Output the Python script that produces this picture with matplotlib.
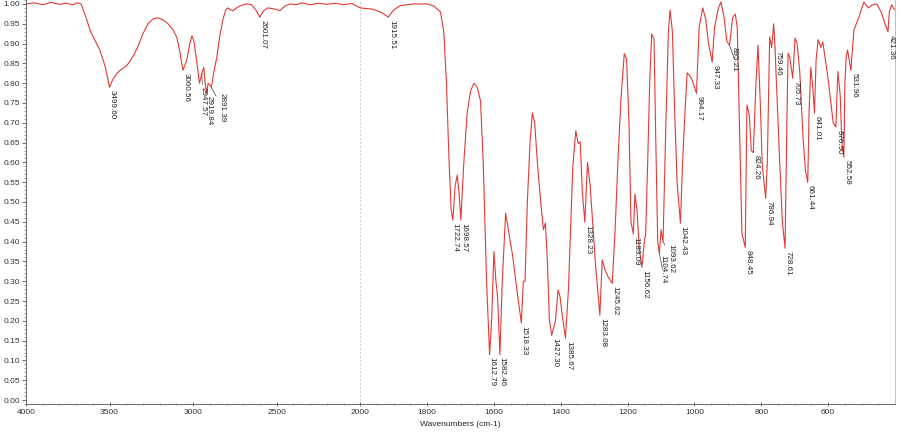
import numpy as np
import matplotlib
matplotlib.use("Agg")
import matplotlib.pyplot as plt
from matplotlib.ticker import FixedLocator, MultipleLocator, FormatStrFormatter

plt.rcParams["font.family"] = ["Liberation Sans", "DejaVu Sans"]

# traced IR spectrum (wavenumber, transmittance)
wavenumber = [
    4000, 3950, 3900, 3850, 3800, 3760, 3720, 3690, 3670, 3640, 3617, 3590, 3558, 3525,
    3500, 3480, 3455, 3430, 3400, 3378, 3350, 3330, 3300, 3270, 3240, 3210, 3181, 3150,
    3120, 3097, 3080, 3061, 3050, 3037, 3020, 3007, 2995, 2980, 2962, 2948, 2936, 2928,
    2920, 2910, 2900, 2891, 2875, 2858, 2840, 2822, 2805, 2792, 2775, 2762, 2740, 2709,
    2680, 2650, 2625, 2601, 2580, 2553, 2520, 2481, 2450, 2420, 2380, 2350, 2300, 2250,
    2200, 2150, 2100, 2050, 2000, 1964, 1940, 1916, 1900, 1880, 1840, 1800, 1780, 1760,
    1750, 1742, 1735, 1728, 1723, 1716, 1710, 1704, 1699, 1690, 1680, 1670, 1660, 1650,
    1640, 1632, 1622, 1613, 1607, 1600, 1594, 1589, 1582, 1575, 1565, 1555, 1545, 1530,
    1518, 1512, 1507, 1500, 1492, 1485, 1478, 1470, 1460, 1452, 1446, 1440, 1434, 1427,
    1422, 1416, 1408, 1402, 1395, 1386, 1377, 1370, 1364, 1355, 1348, 1342, 1335, 1328,
    1320, 1312, 1303, 1295, 1283, 1276, 1268, 1258, 1246, 1238, 1228, 1220, 1210, 1203,
    1196, 1190, 1183, 1178, 1172, 1165, 1157, 1150, 1146, 1140, 1134, 1128, 1121, 1116,
    1110, 1105, 1100, 1094, 1085, 1078, 1073, 1066, 1060, 1052, 1042, 1036, 1030, 1022,
    1015, 1008, 1000, 994, 986, 975, 966, 958, 947, 940, 930, 921, 912, 903,
    895, 886, 878, 872, 866, 858, 848, 843, 836, 830, 824, 816, 810, 803,
    797, 787, 782, 775, 769, 763, 759, 745, 737, 729, 724, 720, 715, 706,
    699, 693, 685, 675, 668, 661, 657, 652, 646, 641, 636, 630, 622, 616,
    600, 585, 577, 571, 564, 559, 553, 550, 546, 542, 532, 523, 508, 493,
    480, 469, 454, 440, 430, 421, 417, 410, 405, 400,
]
transmittance = [
    1.000, 1.003, 0.998, 1.004, 0.999, 1.002, 0.998, 1.003, 1.000, 0.965, 0.934, 0.910, 0.884, 0.840,
    0.790, 0.810, 0.825, 0.835, 0.843, 0.855, 0.875, 0.893, 0.925, 0.950, 0.962, 0.965, 0.960, 0.950,
    0.935, 0.915, 0.880, 0.833, 0.845, 0.860, 0.900, 0.920, 0.905, 0.860, 0.800, 0.825, 0.840, 0.800,
    0.775, 0.800, 0.795, 0.790, 0.830, 0.866, 0.920, 0.960, 0.985, 0.990, 0.985, 0.983, 0.990, 0.997,
    1.000, 0.998, 0.985, 0.967, 0.982, 0.990, 0.988, 0.983, 0.995, 1.000, 0.998, 1.003, 0.998, 1.002,
    0.999, 1.002, 0.998, 1.001, 0.990, 0.987, 0.980, 0.967, 0.985, 0.996, 1.000, 1.000, 0.995, 0.980,
    0.930, 0.800, 0.620, 0.480, 0.455, 0.540, 0.568, 0.520, 0.455, 0.600, 0.725, 0.780, 0.800, 0.790,
    0.755, 0.600, 0.300, 0.115, 0.200, 0.375, 0.300, 0.260, 0.115, 0.300, 0.472, 0.420, 0.370, 0.270,
    0.195, 0.300, 0.300, 0.500, 0.650, 0.725, 0.700, 0.600, 0.500, 0.430, 0.447, 0.350, 0.200, 0.164,
    0.180, 0.200, 0.278, 0.260, 0.210, 0.157, 0.280, 0.450, 0.590, 0.680, 0.648, 0.652, 0.520, 0.450,
    0.600, 0.540, 0.430, 0.330, 0.215, 0.354, 0.330, 0.310, 0.295, 0.420, 0.620, 0.760, 0.875, 0.860,
    0.700, 0.450, 0.420, 0.520, 0.480, 0.380, 0.336, 0.400, 0.420, 0.600, 0.800, 0.925, 0.910, 0.670,
    0.400, 0.370, 0.430, 0.400, 0.715, 0.930, 0.985, 0.930, 0.750, 0.550, 0.447, 0.590, 0.700, 0.826,
    0.820, 0.810, 0.790, 0.775, 0.942, 0.990, 0.960, 0.900, 0.854, 0.940, 0.985, 1.005, 0.970, 0.905,
    0.896, 0.965, 0.975, 0.940, 0.720, 0.420, 0.386, 0.745, 0.720, 0.630, 0.625, 0.800, 0.896, 0.750,
    0.590, 0.510, 0.600, 0.917, 0.890, 0.950, 0.890, 0.600, 0.450, 0.384, 0.674, 0.876, 0.866, 0.813,
    0.914, 0.900, 0.830, 0.660, 0.580, 0.550, 0.730, 0.840, 0.790, 0.725, 0.860, 0.910, 0.890, 0.904,
    0.810, 0.700, 0.690, 0.830, 0.770, 0.650, 0.614, 0.800, 0.866, 0.884, 0.833, 0.934, 0.967, 1.005,
    0.990, 0.997, 1.000, 0.977, 0.950, 0.930, 0.980, 0.998, 0.990, 0.985,
]

# peak picks: label, wavenumber, transmittance at the minimum
peak_labels = [
    "3499.60", "3060.56", "2947.57", "2919.84", "2891.39", "2601.07", "1915.51",
    "1722.74", "1698.57", "1612.79", "1582.46", "1518.33", "1427.30", "1385.67",
    "1328.23", "1283.08", "1245.62", "1183.09", "1156.62", "1104.74", "1093.62",
    "1042.43", "994.17", "947.33", "895.21", "848.45", "824.26", "786.94", "759.46",
    "728.61", "705.73", "661.44", "641.01", "576.90", "552.58", "531.96", "421.36",
]
peak_wn = [float(s) for s in peak_labels]
peak_t = [
    0.790, 0.833, 0.825, 0.775, 0.790, 0.967, 0.967,
    0.455, 0.455, 0.115, 0.115, 0.195, 0.164, 0.157,
    0.450, 0.215, 0.295, 0.420, 0.336, 0.370, 0.400,
    0.447, 0.775, 0.854, 0.896, 0.386, 0.625, 0.510, 0.890,
    0.384, 0.813, 0.550, 0.725, 0.690, 0.614, 0.833, 0.930,
]
# label nudges in pixels (dx, dy) where the picks crowd together
nudge = {"2947.57": (1, -14), "2919.84": (3, -3), "2891.39": (11, -6),
         "895.21": (5, -2), "1093.62": (8, -2), "1104.74": (3, -2),
         "1722.74": (2, -3), "1612.79": (2, -3), "1582.46": (2, -3)}


def fwd(w):
    w = np.asarray(w, dtype=float)
    return np.where(w > 2000, 2000 + (w - 2000) * 0.5, w)


def inv(u):
    u = np.asarray(u, dtype=float)
    return np.where(u > 2000, 2000 + (u - 2000) * 2.0, u)


fig = plt.figure(figsize=(9, 4.33), dpi=100)
ax = fig.add_axes([26 / 900, 29 / 433, 869 / 900, 404 / 433])
ax.set_xscale("function", functions=(fwd, inv))
ax.set_xlim(4000, 400)
ax.set_ylim(-0.01, 1.01)

ax.axvline(2000, color="#c8c8c8", lw=0.7, ls=(0, (2, 2)), zorder=0)
ax.plot(wavenumber, transmittance, color="#e53935", lw=0.8)

for lab, w, t in zip(peak_labels, peak_wn, peak_t):
    dx, dy = nudge.get(lab, (3, -3))
    ax.annotate(lab, xy=(w, t), xytext=(dx, dy), textcoords="offset pixels",
                rotation=270, ha="center", va="top", fontsize=5.8, color="#222222",
                arrowprops=dict(arrowstyle="-", lw=0.5, color="#444444",
                                shrinkA=0, shrinkB=0))

major = [4000, 3500, 3000, 2500, 2000, 1800, 1600, 1400, 1200, 1000, 800, 600]
minor = list(range(4000, 2000, -100)) + list(range(2000, 400, -50))
ax.xaxis.set_major_locator(FixedLocator(major))
ax.xaxis.set_minor_locator(FixedLocator(minor))
ax.xaxis.set_major_formatter(FormatStrFormatter("%d"))
ax.yaxis.set_major_locator(MultipleLocator(0.05))
ax.yaxis.set_minor_locator(MultipleLocator(0.01))
ax.yaxis.set_major_formatter(FormatStrFormatter("%.2f"))

ax.tick_params(axis="both", which="major", labelsize=6, colors="#555555",
               labelcolor="#333333", length=3, width=0.6)
ax.tick_params(axis="x", which="both", direction="inout")
ax.tick_params(axis="both", which="minor", length=1.5, width=0.5, colors="#777777")
ax.tick_params(axis="x", pad=2)
ax.tick_params(axis="y", pad=1.5)

ax.spines["top"].set_visible(False)
ax.spines["right"].set_color("#c0c0c0")
ax.spines["left"].set_color("#666666")
ax.spines["bottom"].set_color("#666666")
for s in ("left", "bottom", "right"):
    ax.spines[s].set_linewidth(0.7)

ax.set_xlabel("Wavenumbers (cm-1)", fontsize=6, color="#222222", labelpad=4)

fig.savefig("out.png", dpi=100)
